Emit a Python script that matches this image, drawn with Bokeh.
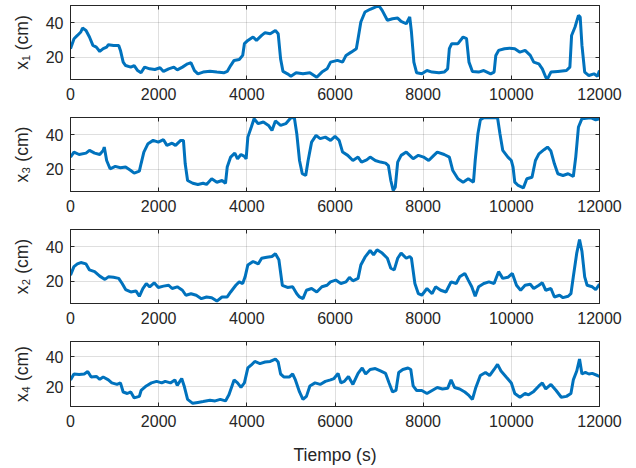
from bokeh.plotting import figure
from bokeh.models import Range1d, LinearAxis
from bokeh.layouts import column
from bokeh.embed import file_html
from bokeh.resources import INLINE

# ---------------- data ----------------
x_ticks = [0, 2000, 4000, 6000, 8000, 10000, 12000]
y_ticks = [20, 40]
x_lim = (0, 12000)
y_lim = (7, 50)
x_label = "Tiempo (s)"
y_labels = ["x\u2081 (cm)", "x\u2083 (cm)", "x\u2082 (cm)", "x\u2084 (cm)"]

t1 = [0, 80, 156, 234, 273, 352, 430, 508, 586, 664, 742, 820, 860, 977, 1094, 1133, 1195, 1250, 1367, 1445,
      1523, 1600, 1680, 1797, 1914, 2031, 2109, 2227, 2344, 2422, 2539, 2656, 2734, 2812, 2890, 3008, 3164, 3320,
      3477, 3555, 3633, 3711, 3828, 3906, 3945, 4023, 4141, 4219, 4336, 4414, 4531, 4648, 4711, 4766, 4820, 4922,
      5000, 5117, 5273, 5430, 5586, 5703, 5820, 5900, 6055, 6172, 6250, 6367, 6484, 6523, 6586, 6680, 6797, 6914,
      6992, 7070, 7188, 7305, 7422, 7500, 7617, 7695, 7734, 7789, 7852, 7969, 8086, 8203, 8359, 8477, 8555, 8594,
      8648, 8789, 8906, 8984, 9039, 9117, 9258, 9375, 9531, 9609, 9648, 9711, 9844, 9961, 10078, 10195, 10312,
      10430, 10508, 10625, 10703, 10781, 10820, 10898, 11055, 11250, 11328, 11367, 11445, 11523, 11562, 11602,
      11664, 11758, 11875, 11953, 12000]
x1 = [24.9, 30.7, 32.6, 34.6, 36.9, 35.5, 31.7, 26.8, 25.8, 23.3, 24.9, 25.8, 27.2, 26.8, 26.8, 23.9, 17.1, 15.1,
      14.2, 15.1, 12.2, 10.9, 14.2, 13.2, 12.8, 13.8, 11.7, 13.2, 14.2, 12.6, 14.2, 16.1, 16.7, 12.2, 10.3, 11.3,
      11.8, 11.3, 10.9, 11.7, 15.1, 18.1, 18.6, 21.0, 27.8, 29.7, 31.7, 29.7, 32.6, 34.2, 33.6, 35.5, 33.6, 19.0,
      11.7, 10.3, 8.9, 10.9, 10.3, 10.9, 8.3, 11.3, 13.2, 17.1, 18.1, 17.1, 21.0, 22.9, 24.9, 30.7, 40.4, 46.2,
      47.8, 49.1, 50.0, 47.2, 41.4, 42.3, 42.7, 40.8, 39.4, 43.3, 34.6, 17.1, 10.9, 10.3, 12.2, 11.3, 10.9, 11.3,
      13.2, 24.9, 27.8, 27.8, 31.7, 30.7, 17.1, 11.7, 11.3, 12.2, 10.3, 11.3, 21.0, 23.9, 24.9, 25.2, 24.9, 22.9,
      23.9, 21.0, 17.1, 16.1, 13.2, 8.3, 7.4, 11.3, 11.7, 12.2, 14.2, 32.6, 37.5, 44.3, 43.3, 26.8, 11.3, 9.3,
      10.3, 8.9, 12.2]

t3 = [0, 78, 195, 352, 430, 547, 664, 742, 766, 820, 898, 1016, 1133, 1250, 1367, 1445, 1562, 1600, 1664, 1758,
      1875, 1992, 2109, 2187, 2305, 2383, 2500, 2562, 2602, 2656, 2773, 2890, 3008, 3086, 3203, 3320, 3437, 3516,
      3555, 3633, 3727, 3789, 3867, 3945, 3984, 4023, 4102, 4164, 4258, 4375, 4492, 4570, 4648, 4766, 4883, 5000,
      5078, 5133, 5195, 5258, 5336, 5390, 5469, 5570, 5664, 5781, 5900, 6000, 6094, 6172, 6289, 6406, 6523, 6602,
      6719, 6797, 6914, 7031, 7148, 7211, 7266, 7320, 7367, 7422, 7500, 7617, 7695, 7773, 7891, 8008, 8125, 8242,
      8320, 8477, 8594, 8672, 8789, 8906, 9023, 9141, 9180, 9242, 9297, 9375, 9687, 9742, 9805, 9922, 10000, 10039,
      10078, 10156, 10273, 10352, 10469, 10547, 10625, 10742, 10820, 10898, 10977, 11055, 11172, 11289, 11406,
      11461, 11523, 11602, 11797, 11914, 12000]
x3 = [27, 29.9, 28.5, 29.3, 30.9, 29.3, 28.5, 30.9, 32.8, 25, 20.2, 21.6, 20.8, 21.2, 19.2, 17.7, 18.8, 23.1, 29.9,
      34.8, 36.7, 35.7, 37.1, 33.8, 35.1, 33.8, 36.7, 36.7, 23.1, 13.4, 11.8, 11.1, 11.8, 11.1, 14.4, 12.4, 13.4,
      11.8, 21.2, 27, 29.3, 26, 28.5, 27.4, 26, 38.6, 44.5, 49.3, 46.4, 47.4, 45.4, 42.5, 48, 45.4, 46.4, 49.9,
      49.9, 40.6, 25, 17.3, 16.3, 25, 35.7, 39.6, 37.7, 38.6, 36.7, 39, 36.7, 29.9, 28, 25, 27, 24.1, 25.4, 27, 25,
      24.1, 23.5, 22.1, 13.4, 7.6, 9.5, 24.1, 28, 29.9, 28, 26, 28, 27, 25, 28, 29.9, 28.5, 27, 19.2, 14.4, 12.4,
      14.4, 12.4, 25, 40.6, 48.7, 49.9, 49.9, 40.6, 30.9, 27, 25, 21.2, 12.4, 10.5, 9.1, 14.4, 15.3, 25, 28.9,
      31.3, 32.8, 30.5, 23.1, 17.3, 16.3, 17.3, 15.7, 27, 44.5, 49.3, 49.9, 48.7, 49.3]

t2 = [0, 78, 156, 234, 352, 430, 547, 664, 781, 859, 977, 1094, 1172, 1250, 1367, 1484, 1562, 1641, 1719, 1797,
      1898, 1992, 2109, 2227, 2305, 2422, 2539, 2617, 2734, 2852, 2969, 3086, 3203, 3320, 3437, 3555, 3633, 3750,
      3828, 3906, 3961, 4023, 4141, 4258, 4336, 4453, 4570, 4648, 4727, 4805, 4922, 5039, 5133, 5195, 5273, 5352,
      5469, 5586, 5703, 5820, 5898, 6016, 6133, 6250, 6328, 6406, 6523, 6586, 6680, 6797, 6875, 6953, 7070, 7188,
      7266, 7344, 7422, 7500, 7617, 7695, 7734, 7812, 7891, 7969, 8086, 8203, 8281, 8398, 8516, 8633, 8750, 8828,
      8945, 9023, 9102, 9180, 9258, 9375, 9492, 9609, 9711, 9805, 9922, 10023, 10117, 10211, 10312, 10430, 10508,
      10625, 10703, 10781, 10898, 10977, 11094, 11172, 11289, 11352, 11406, 11484, 11547, 11602, 11664, 11719,
      11836, 11914, 12000]
x2 = [23.5, 28.4, 30, 30.8, 30, 26.5, 25.5, 22.9, 21, 22.5, 22.2, 21.6, 18.6, 15.1, 13.7, 14.3, 11.2, 15.7, 18.6,
      16.7, 19, 16.3, 17.1, 17.6, 15.7, 16.7, 14.7, 11.8, 12.7, 11.8, 9.8, 10.8, 10.4, 8.4, 10.8, 10.8, 13.7, 17.6,
      19.6, 18.6, 22.5, 29.4, 31.4, 30, 33.3, 33.9, 34.3, 35.9, 32.4, 17.6, 16.3, 16.7, 12.7, 10.8, 9.8, 14.7,
      15.7, 13.7, 16.7, 17.6, 19.6, 20.6, 18.6, 19.6, 22.2, 20.2, 21.6, 29.4, 33.9, 37.8, 35.3, 38.2, 36.3, 33.3,
      27.5, 26.5, 33.3, 36.3, 33.3, 34.3, 33.3, 18.6, 12.7, 11.8, 15.7, 12.7, 16.7, 14.7, 13.7, 19.6, 18.6, 22.5,
      24.5, 20.6, 16.7, 11.2, 16.7, 18.6, 19.6, 18.6, 25.5, 21.6, 22.2, 24.5, 17.6, 14.7, 17.6, 18.2, 15.7, 17.6,
      19, 14.7, 15.7, 10.8, 11.8, 10.4, 11.2, 12.7, 22.5, 36.3, 44.1, 37.3, 22.5, 17.6, 16.7, 15.1, 18.2]

t4 = [0, 78, 195, 312, 391, 469, 586, 664, 742, 859, 937, 1055, 1133, 1195, 1289, 1367, 1445, 1562, 1602, 1719,
      1836, 1953, 2070, 2148, 2266, 2367, 2422, 2523, 2578, 2656, 2773, 2890, 3008, 3164, 3281, 3398, 3516, 3594,
      3711, 3789, 3867, 3945, 4023, 4102, 4180, 4297, 4414, 4531, 4648, 4711, 4766, 4844, 4961, 5039, 5102, 5195,
      5273, 5352, 5430, 5547, 5664, 5781, 5898, 5977, 6070, 6133, 6211, 6305, 6406, 6523, 6617, 6695, 6797, 6914,
      7031, 7148, 7227, 7305, 7383, 7445, 7539, 7656, 7719, 7773, 7852, 7969, 8086, 8203, 8320, 8437, 8555, 8633,
      8711, 8828, 8945, 9023, 9117, 9195, 9297, 9414, 9508, 9609, 9687, 9766, 9883, 10000, 10078, 10195, 10312,
      10391, 10508, 10625, 10703, 10781, 10898, 11016, 11133, 11250, 11352, 11406, 11484, 11547, 11602, 11680,
      11758, 11836, 11953, 12000]
x4 = [24.6, 28.5, 28.1, 28.5, 30.1, 26.5, 26.9, 25, 26.5, 24.6, 22.6, 21.6, 22.6, 16.6, 15.6, 16.6, 12.7, 13.7,
      17.6, 20.6, 22.6, 23.6, 22.6, 23.6, 22.6, 24.6, 21, 25.5, 20.6, 11.7, 9.1, 9.7, 10.3, 11.1, 10.7, 11.7, 10.7,
      14.7, 24.6, 22.6, 19.6, 22.6, 32.5, 34.5, 36.8, 35.4, 36.4, 36.8, 38.4, 36.4, 28.5, 26.5, 26.5, 28.5, 24.6,
      16.6, 11.7, 13.7, 20.6, 22.6, 21.6, 23.6, 24.6, 25.5, 28.9, 22.6, 23.6, 26.9, 21.6, 28.9, 32.5, 28.5, 31.5,
      32.1, 30.5, 28.9, 22.6, 16.6, 17.6, 29.5, 31.5, 32.5, 31.5, 20.6, 17.6, 17.6, 15.6, 17.6, 19.6, 18.6, 19,
      24.6, 19.6, 18.6, 16.6, 14.7, 11.7, 19.6, 27.5, 29.5, 27.5, 31.5, 34.9, 30.5, 26.5, 22.6, 15.6, 13.1, 15.6,
      14.7, 17, 20.6, 22.6, 18.6, 21.6, 17.6, 13.1, 13.7, 15.6, 24.6, 30.5, 38.4, 28.5, 29.5, 28.5, 28.9, 27.5,
      26.9]

series = [(t1, x1), (t3, x3), (t2, x2), (t4, x4)]

# ---------------- style ----------------
FONT = "Liberation Sans"
TXT = "#262626"
LINE = "#0072BD"


def style_axis(ax, labels=True):
    ax.axis_line_color = TXT
    ax.major_tick_line_color = TXT
    ax.major_tick_in = 4
    ax.major_tick_out = 0
    ax.minor_tick_line_color = None
    if labels:
        ax.major_label_text_font = FONT
        ax.major_label_text_font_size = "16px"
        ax.major_label_text_color = TXT
    else:
        ax.major_label_text_font_size = "0px"
        ax.major_label_standoff = 0


def make_panel(t, v, ylab, last):
    p = figure(width=628, height=131 if last else 112, output_backend="svg", toolbar_location=None,
               x_range=Range1d(*x_lim), y_range=Range1d(*y_lim),
               min_border_left=70, min_border_right=29, min_border_top=5,
               min_border_bottom=52 if last else 33)
    p.line(t, v, line_color=LINE, line_width=3)
    p.outline_line_color = TXT
    p.outline_line_width = 1

    p.xaxis.ticker = x_ticks
    p.yaxis.ticker = y_ticks
    for ax in p.xaxis + p.yaxis:
        style_axis(ax)
    p.xaxis.major_label_standoff = 8
    p.yaxis.major_label_standoff = 7
    p.yaxis.axis_label = ylab
    p.yaxis.axis_label_text_font = FONT
    p.yaxis.axis_label_text_font_size = "17.5px"
    p.yaxis.axis_label_text_font_style = "normal"
    p.yaxis.axis_label_text_color = TXT
    p.yaxis.axis_label_standoff = 11
    if last:
        p.xaxis.axis_label = x_label
        p.xaxis.axis_label_text_font = FONT
        p.xaxis.axis_label_text_font_size = "17.5px"
        p.xaxis.axis_label_text_font_style = "normal"
        p.xaxis.axis_label_text_color = TXT
        p.xaxis.axis_label_standoff = 15

    # box edges with inward ticks (top and right), labels hidden
    top = LinearAxis(ticker=x_ticks)
    style_axis(top, labels=False)
    p.add_layout(top, "above")
    right = LinearAxis(ticker=y_ticks)
    style_axis(right, labels=False)
    p.add_layout(right, "right")

    p.xgrid.grid_line_color = TXT
    p.ygrid.grid_line_color = TXT
    p.xgrid.grid_line_alpha = 0.15
    p.ygrid.grid_line_alpha = 0.15
    return p


panels = [make_panel(t, v, lab, i == 3) for i, ((t, v), lab) in enumerate(zip(series, y_labels))]
layout = column(*panels, spacing=0)

open("out.html", "w").write(file_html(layout, INLINE))
